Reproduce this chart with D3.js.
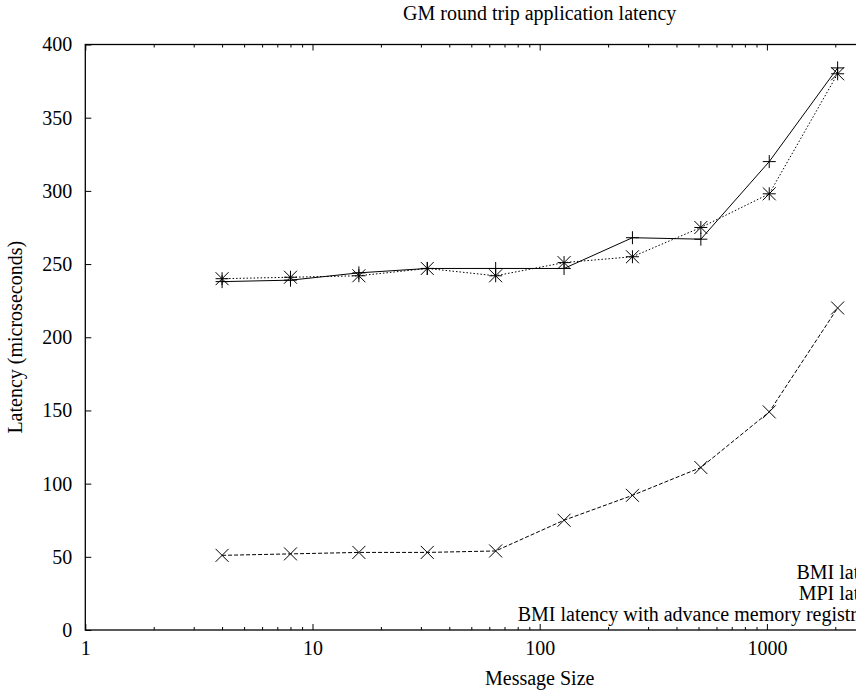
<!DOCTYPE html>
<html>
<head>
<meta charset="utf-8">
<script src="https://cdn.jsdelivr.net/npm/d3@7"></script>
<style>
  body { margin: 0; background: #fff; overflow: hidden; }
  text { font-family: "Liberation Serif", "Times New Roman", serif; fill: #000; }
</style>
</head>
<body>
<div id="chart"></div>
<script>
// message sizes (bytes)
const sizes = [4, 8, 16, 32, 64, 128, 256, 512, 1024, 2048];

// latencies in microseconds
const bmiLatency = [238, 239, 244, 247, 247, 247, 268, 267, 320, 384];
const mpiLatency = [51, 52, 53, 53, 54, 75, 92, 111, 149, 220];
const bmiAdvLatency = [240, 241, 242, 247, 242, 251, 255, 275, 298, 380];

const seriesNames = ["BMI latency", "MPI latency", "BMI latency with advance memory registration"];
const yTicks = [0, 50, 100, 150, 200, 250, 300, 350, 400];
const xMajorTicks = [1, 10, 100, 1000, 10000];

const width = 856, height = 697;
const margin = {top: 44.5, left: 85.3};
const plotW = 908.8, plotH = 585.5;
const fontSize = "20px";

const svg = d3.select("#chart").append("svg")
    .attr("width", width)
    .attr("height", height);

const g = svg.append("g")
    .attr("transform", `translate(${margin.left},${margin.top})`);

const x = d3.scaleLog().domain([1, 10000]).range([0, plotW]);
const y = d3.scaleLinear().domain([0, 400]).range([plotH, 0]);

// minor log ticks 2..9 in every decade
let xMinorTicks = [];
xMajorTicks.slice(0, -1).forEach(p => {
    for (let k = 2; k <= 9; k++) xMinorTicks.push(p * k);
});

function styleAxis(sel) {
    sel.selectAll("path").remove();
    sel.selectAll("line").attr("stroke", "#000").attr("stroke-width", 1);
    sel.selectAll("text").style("font-size", fontSize).attr("fill", "#000");
}

// bottom axis
g.append("g")
    .attr("transform", `translate(0,${plotH})`)
    .call(d3.axisBottom(x).tickValues(xMajorTicks).tickFormat(d3.format("d")).tickSize(-6).tickPadding(11))
    .call(styleAxis);
g.append("g")
    .attr("transform", `translate(0,${plotH})`)
    .call(d3.axisBottom(x).tickValues(xMinorTicks).tickFormat("").tickSize(-3))
    .call(styleAxis);

// top mirror ticks
g.append("g")
    .call(d3.axisTop(x).tickValues(xMajorTicks).tickFormat("").tickSize(-6))
    .call(styleAxis);
g.append("g")
    .call(d3.axisTop(x).tickValues(xMinorTicks).tickFormat("").tickSize(-3))
    .call(styleAxis);

// left axis
g.append("g")
    .call(d3.axisLeft(y).tickValues(yTicks).tickSize(-6).tickPadding(13))
    .call(styleAxis);
// right mirror
g.append("g")
    .attr("transform", `translate(${plotW},0)`)
    .call(d3.axisRight(y).tickValues(yTicks).tickFormat("").tickSize(-6))
    .call(styleAxis);

// frame
g.append("rect")
    .attr("width", plotW)
    .attr("height", plotH)
    .attr("fill", "none")
    .attr("stroke", "#000")
    .attr("stroke-width", 1.3);

// marker shapes
const ms = 6.5;
function drawMarker(sel, type) {
    const p = d3.path();
    if (type === "plus" || type === "star") {
        p.moveTo(-ms, 0); p.lineTo(ms, 0);
        p.moveTo(0, -ms); p.lineTo(0, ms);
    }
    if (type === "cross" || type === "star") {
        p.moveTo(-ms, -ms); p.lineTo(ms, ms);
        p.moveTo(-ms, ms); p.lineTo(ms, -ms);
    }
    sel.append("path")
        .attr("d", p.toString())
        .attr("stroke", "#000")
        .attr("stroke-width", 1)
        .attr("fill", "none");
}

const series = [
    {name: seriesNames[0], values: bmiLatency, dash: null, marker: "plus"},
    {name: seriesNames[1], values: mpiLatency, dash: "4,2", marker: "cross"},
    {name: seriesNames[2], values: bmiAdvLatency, dash: "1.5,2", marker: "star"}
];

const line = d3.line()
    .x(d => x(d[0]))
    .y(d => y(d[1]));

series.forEach(s => {
    const pts = sizes.map((sz, i) => [sz, s.values[i]]);
    g.append("path")
        .datum(pts)
        .attr("d", line)
        .attr("fill", "none")
        .attr("stroke", "#000")
        .attr("stroke-width", 1)
        .attr("stroke-dasharray", s.dash);
    pts.forEach(p => {
        g.append("g")
            .attr("transform", `translate(${x(p[0])},${y(p[1])})`)
            .call(drawMarker, s.marker);
    });
});

// key, bottom right (runs past the window edge, as in the original)
const keyTextX = 897 - margin.left;
const keyRowH = 21;
series.forEach((s, i) => {
    const ky = 579 - margin.top + i * keyRowH;
    g.append("text")
        .attr("x", keyTextX)
        .attr("y", ky)
        .attr("text-anchor", "end")
        .style("font-size", fontSize)
        .text(s.name);
    const sy = ky - 6;
    g.append("line")
        .attr("x1", keyTextX + 10)
        .attr("x2", plotW - 10)
        .attr("y1", sy)
        .attr("y2", sy)
        .attr("stroke", "#000")
        .attr("stroke-dasharray", s.dash);
    g.append("g")
        .attr("transform", `translate(${(keyTextX + plotW) / 2},${sy})`)
        .call(drawMarker, s.marker);
});

// title and axis labels
svg.append("text")
    .attr("x", margin.left + plotW / 2)
    .attr("y", 20)
    .attr("text-anchor", "middle")
    .style("font-size", fontSize)
    .text("GM round trip application latency");

svg.append("text")
    .attr("x", margin.left + plotW / 2)
    .attr("y", 685)
    .attr("text-anchor", "middle")
    .style("font-size", fontSize)
    .text("Message Size");

svg.append("text")
    .attr("transform", `translate(22,${margin.top + plotH / 2}) rotate(-90)`)
    .attr("text-anchor", "middle")
    .style("font-size", fontSize)
    .text("Latency (microseconds)");
</script>
</body>
</html>
